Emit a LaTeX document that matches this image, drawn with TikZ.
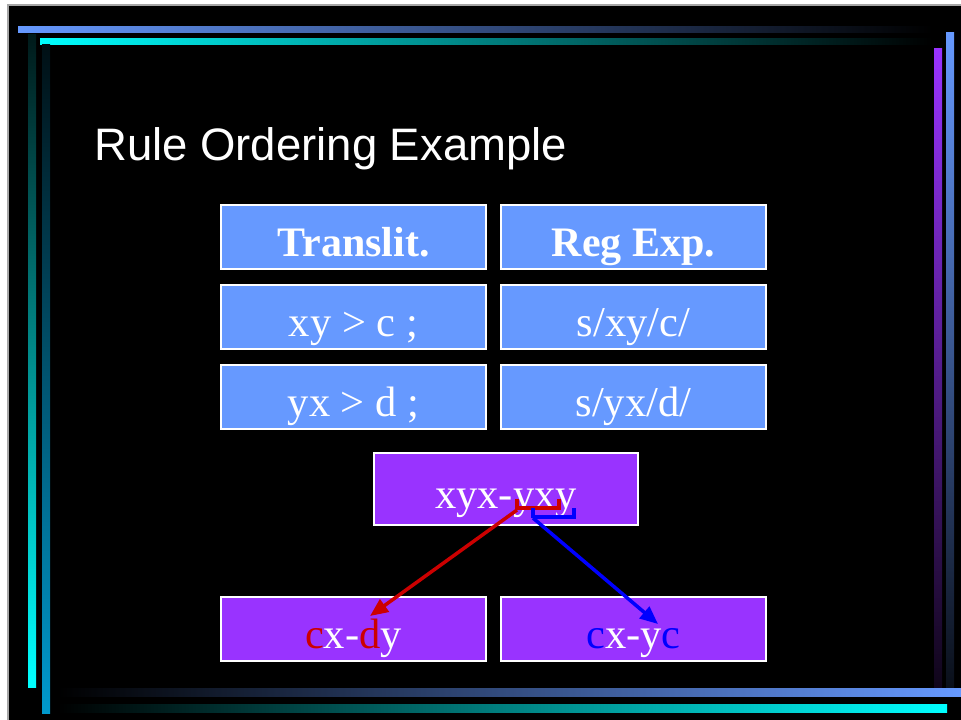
\documentclass[tikz,border=0pt]{standalone}
\usepackage{fontspec}
\setmainfont{Liberation Serif}
\newfontfamily\titlefont{Liberation Sans}
\usetikzlibrary{arrows.meta}
\definecolor{lblue}{HTML}{6699FF}
\definecolor{lpurple}{HTML}{9933FF}
\definecolor{lcyan}{HTML}{00FFFF}
\definecolor{dcyan}{HTML}{0099CC}
\definecolor{rred}{HTML}{CC0000}
\definecolor{bblue}{HTML}{0000FF}
\tikzset{
  cell/.style={draw=white, line width=1.5pt, minimum width=265pt, minimum height=64pt,
    inner sep=0pt, text height=41pt, text depth=3pt, text=white,
    font=\fontsize{42.5}{48}\selectfont},
  bluecell/.style={cell, fill=lblue},
  purplecell/.style={cell, fill=lpurple},
  bracketline/.style={line width=3.5pt},
  arrowline/.style={line width=3.5pt, -{Triangle[length=18pt,width=15pt]}},
}
\begin{document}
\begin{tikzpicture}[x=1pt,y=-1pt]
\useasboundingbox (0,0) rectangle (961,720);
% background
\fill[white] (0,0) rectangle (961,720);
\fill[black] (8,5) rectangle (961,720);
\draw[gray!70, line width=1.5pt] (8,720) -- (8,5) -- (961,5);
% decorative bars
\shade[left color=lblue, right color=black] (18,26) rectangle (932,32);
\shade[left color=lcyan, right color=black] (40,38) rectangle (932,44);
\shade[top color=lblue, bottom color=black!90!lblue] (946,32) rectangle (954,687);
\shade[top color=lpurple, bottom color=black!90!lpurple] (934,48) rectangle (942,687);
\shade[top color=black!90!lcyan, bottom color=lcyan] (28,34) rectangle (36,687);
\shade[top color=black!90!dcyan, bottom color=dcyan] (42,44) rectangle (50,713);
\shade[left color=black, right color=lblue] (58,688) rectangle (961,696);
\shade[left color=black, right color=lcyan] (58,704) rectangle (947,712);
% title
\node[anchor=base west, inner sep=0pt, text=white, font=\titlefont\fontsize{45.5}{52}\selectfont] (title) at (94,160) {Rule Ordering Example};
% table
\node[bluecell, font=\fontsize{42}{48}\selectfont\bfseries] (h1) at (353.5,237) {Translit.};
\node[bluecell, font=\fontsize{42}{48}\selectfont\bfseries] (h2) at (633.5,237) {Reg Exp.};
\node[bluecell] (a1) at (353.5,317) {xy > c ;};
\node[bluecell] (a2) at (633.5,317) {s/xy/c/};
\node[bluecell] (b1) at (353.5,397) {yx > d ;};
\node[bluecell] (b2) at (633.5,397) {s/yx/d/};
% source and results
\node[purplecell, minimum width=264pt, minimum height=72pt] (src) at (506,489) {xyx-yxy};
\node[purplecell] (r1) at (353.5,629) {\textcolor{rred}{c}x-\textcolor{rred}{d}y};
\node[purplecell] (r2) at (633.5,629) {\textcolor{bblue}{c}x-y\textcolor{bblue}{c}};
% brackets
\coordinate (rs) at (517,510);
\coordinate (bs) at (533,518);
\draw[rred, bracketline] (517,499) -- (rs);
\draw[rred, bracketline] (517,508) -- (559,508) -- (559,499);
\draw[bblue, bracketline] (bs) -- (533,508);
\draw[bblue, bracketline] (533,517) -- (574,517) -- (574,508);
% arrows
\coordinate (rt) at (370,616);
\coordinate (bt) at (658,624);
\draw[rred, arrowline] (rs) -- (rt);
\draw[bblue, arrowline] (bs) -- (bt);
\end{tikzpicture}
\end{document}
